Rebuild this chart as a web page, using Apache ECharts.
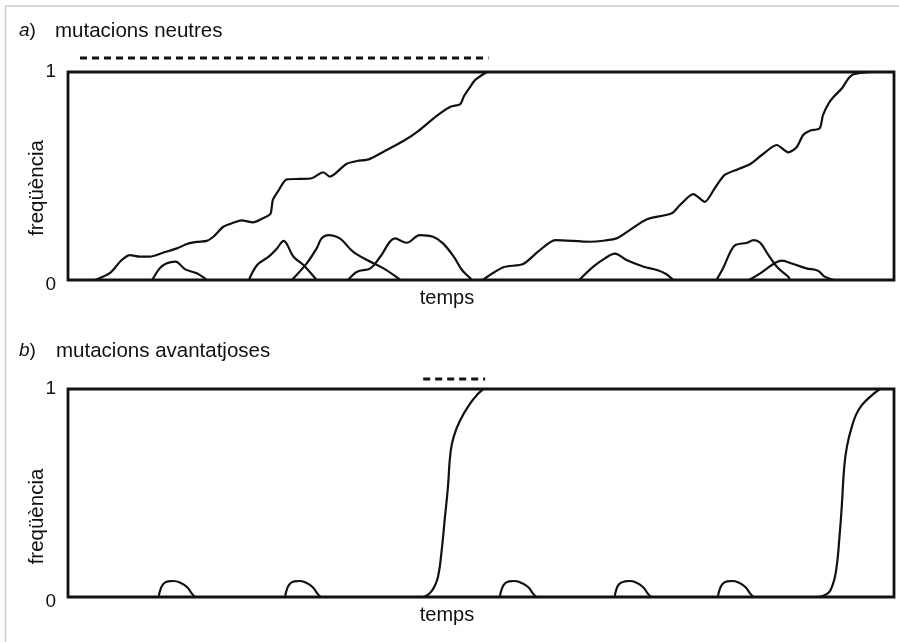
<!DOCTYPE html>
<html>
<head>
<meta charset="utf-8">
<script src="https://cdn.jsdelivr.net/npm/echarts@6/dist/echarts.min.js"></script>
<style>
  html, body { margin: 0; padding: 0; background: #fff; }
  #main { width: 899px; height: 642px; }
</style>
</head>
<body>
<div id="main"></div>
<script>
// temps: 0..100 per panell, freqüència: 0..1

// a) mutacions neutres
var neutralFix1 = [[3.3,0],[5.1,0.034],[6.5,0.096],[7.5,0.12],[8.7,0.112],[9.9,0.112],[11.5,0.131],[13.2,0.152],[14.4,0.173],[15.6,0.183],[16.8,0.188],[17.6,0.208],[18.8,0.256],[20.0,0.275],[21.0,0.287],[22.4,0.277],[23.6,0.297],[24.5,0.317],[24.8,0.385],[25.4,0.425],[26.5,0.484],[28.1,0.486],[29.5,0.489],[30.9,0.518],[31.7,0.497],[33.7,0.558],[35.0,0.572],[36.4,0.58],[38.2,0.617],[40.6,0.668],[42.4,0.716],[44.6,0.788],[46.3,0.833],[47.5,0.846],[47.9,0.881],[48.7,0.929],[49.3,0.962],[50.7,1]];
var neutralFix2 = [[50.2,0],[52.7,0.061],[55.1,0.077],[56.9,0.136],[59.0,0.192],[63.2,0.184],[66.4,0.2],[68.0,0.24],[70.1,0.292],[73.1,0.321],[74.1,0.361],[75.7,0.413],[77.1,0.376],[78.3,0.441],[79.5,0.505],[81.2,0.534],[82.6,0.558],[84.0,0.601],[85.8,0.649],[87.2,0.614],[88.2,0.638],[89.0,0.697],[89.8,0.718],[91.0,0.729],[91.4,0.793],[92.1,0.85],[92.7,0.881],[93.7,0.922],[94.5,0.97],[95.1,0.989],[97.3,1]];
var neutralLost = [
  [[10.2,0],[11.1,0.056],[11.9,0.079],[13.0,0.088],[14.2,0.051],[15.6,0.032],[16.8,0]],
  [[21.9,0],[22.9,0.072],[24.3,0.112],[25.3,0.152],[26.1,0.188],[27.3,0.112],[28.5,0.072],[30.1,0]],
  [[27.1,0],[28.9,0.08],[30.1,0.152],[30.7,0.2],[31.5,0.216],[32.9,0.2],[34.5,0.136],[36.2,0.096],[38.2,0.056],[40.0,0.008],[40.2,0]],
  [[33.9,0],[35.0,0.04],[36.6,0.056],[37.8,0.112],[39.6,0.2],[41.0,0.179],[42.6,0.216],[44.2,0.208],[45.4,0.176],[46.7,0.112],[47.7,0.048],[48.7,0.008],[48.9,0]],
  [[61.9,0],[63.6,0.064],[65.0,0.104],[66.2,0.127],[67.6,0.096],[69.7,0.064],[71.3,0.048],[72.4,0.029],[73.3,0]],
  [[78.5,0],[79.3,0.056],[80.2,0.136],[80.8,0.168],[82.2,0.179],[83.0,0.192],[83.8,0.179],[84.8,0.12],[86.0,0.056],[87.2,0.016],[87.4,0]],
  [[82.4,0],[83.8,0.032],[85.4,0.077],[86.4,0.093],[87.8,0.077],[89.4,0.056],[90.8,0.045],[91.6,0.016],[92.7,0]]
];
var neutralSpan = [[1.45,1.067],[50.9,1.067]];

// b) mutacions avantatjoses
var sweep1 = [[43.0,0],[43.8,0.018],[44.35,0.05],[44.8,0.098],[45.2,0.21],[45.6,0.37],[46.0,0.53],[46.3,0.691],[46.7,0.771],[47.5,0.851],[48.7,0.931],[49.7,0.979],[50.3,1]];
var sweep2 = [[90.8,0],[91.85,0.014],[92.5,0.05],[93.0,0.13],[93.4,0.29],[93.7,0.45],[93.95,0.611],[94.3,0.723],[94.9,0.819],[95.7,0.899],[96.9,0.955],[98.3,1]];
var bumpHeights = [0,0.024,0.061,0.075,0.077,0.069,0.048,0.016,0];
var bumpTimes = [
  [11.0,11.1,11.5,12.1,12.7,13.6,14.4,15.0,15.4],
  [26.3,26.4,26.8,27.4,28.0,28.8,29.6,30.2,30.6],
  [52.3,52.4,52.8,53.4,54.0,54.8,55.7,56.3,56.7],
  [66.2,66.3,66.7,67.4,68.0,68.8,69.6,70.2,70.6],
  [78.7,78.8,79.2,79.8,80.4,81.2,82.0,82.6,83.0]
];
var sweepSpan = [[43.0,1.048],[50.5,1.048]];

var yTicks = ['0', '1'];
var black = '#111';
var font = 'Liberation Sans, Helvetica, Arial, sans-serif';

var myChart = echarts.init(document.getElementById('main'));

function curve(data, g, smooth) {
    return {
        type: 'line', xAxisIndex: g, yAxisIndex: g,
        data: data, showSymbol: false, smooth: smooth,
        clip: false, silent: true,
        lineStyle: { color: black, width: 2.2 }
    };
}
function dashed(data, g) {
    return {
        type: 'line', xAxisIndex: g, yAxisIndex: g,
        data: data, showSymbol: false, clip: false, silent: true,
        lineStyle: { color: black, width: 3, type: [7, 5] }
    };
}

var series = [];
series.push(curve(neutralFix1, 0, 0.25));
series.push(curve(neutralFix2, 0, 0.25));
for (var i = 0; i < neutralLost.length; i++) {
    series.push(curve(neutralLost[i], 0, 0.35));
}
series.push(dashed(neutralSpan, 0));
series.push(curve(sweep1, 1, 0.5));
series.push(curve(sweep2, 1, 0.5));
for (var j = 0; j < bumpTimes.length; j++) {
    var pts = [];
    for (var k = 0; k < bumpTimes[j].length; k++) {
        pts.push([bumpTimes[j][k], bumpHeights[k]]);
    }
    series.push(curve(pts, 1, 0.5));
}
series.push(dashed(sweepSpan, 1));

function xAx(g) {
    return {
        gridIndex: g, type: 'value', min: 0, max: 100,
        name: 'temps', nameLocation: 'middle', nameGap: 8,
        nameTextStyle: { fontFamily: font, fontSize: 20, color: black, padding: [0, 68, 0, 0] },
        axisLine: { show: false }, axisTick: { show: false },
        axisLabel: { show: false }, splitLine: { show: false }
    };
}
// shift: el nom de l'eix no està centrat, baixa una mica
function yAx(g, shift) {
    return {
        gridIndex: g, type: 'value', min: 0, max: 1, interval: 1,
        name: 'freqüència', nameLocation: 'middle', nameGap: 20, nameRotate: 90,
        nameMoveOverlap: false,
        nameTextStyle: { fontFamily: font, fontSize: 20.5, color: black, padding: [0, shift, 0, 0] },
        axisLine: { show: false }, axisTick: { show: false }, splitLine: { show: false },
        axisLabel: {
            margin: 12, color: black, fontFamily: font, fontSize: 19,
            formatter: function (v) {
                return v === 0 ? '{z|' + yTicks[0] + '}' : yTicks[1];
            },
            rich: { z: { fontFamily: font, fontSize: 19, color: black, padding: [10, 0, 0, 0] } }
        }
    };
}

var option = {
    backgroundColor: '#fff',
    animation: false,
    title: [
        { text: '{i|a})', left: 19, top: 21, padding: 0,
          textStyle: { fontFamily: font, fontSize: 19, fontWeight: 'normal', color: black,
                       rich: { i: { fontFamily: font, fontSize: 19, fontStyle: 'italic', color: black } } } },
        { text: 'mutacions neutres', left: 55, top: 21, padding: 0,
          textStyle: { fontFamily: font, fontSize: 20.5, fontWeight: 'normal', color: black } },
        { text: '{i|b})', left: 19, top: 341, padding: 0,
          textStyle: { fontFamily: font, fontSize: 19, fontWeight: 'normal', color: black,
                       rich: { i: { fontFamily: font, fontSize: 19, fontStyle: 'italic', color: black } } } },
        { text: 'mutacions avantatjoses', left: 56, top: 341, padding: 0,
          textStyle: { fontFamily: font, fontSize: 20.5, fontWeight: 'normal', color: black } }
    ],
    graphic: [
        { type: 'line', shape: { x1: 5.5, y1: 6, x2: 899, y2: 6 }, style: { stroke: '#ccc', lineWidth: 1.5 } },
        { type: 'line', shape: { x1: 5.5, y1: 6, x2: 5.5, y2: 642 }, style: { stroke: '#ccc', lineWidth: 1.5 } }
    ],
    grid: [
        { left: 68, top: 72, width: 826, height: 208, show: true, borderColor: black, borderWidth: 2.8 },
        { left: 68, top: 389, width: 826, height: 208, show: true, borderColor: black, borderWidth: 2.8 }
    ],
    xAxis: [xAx(0), xAx(1)],
    yAxis: [yAx(0, 24), yAx(1, 47)],
    series: series
};
myChart.setOption(option);
</script>
</body>
</html>
